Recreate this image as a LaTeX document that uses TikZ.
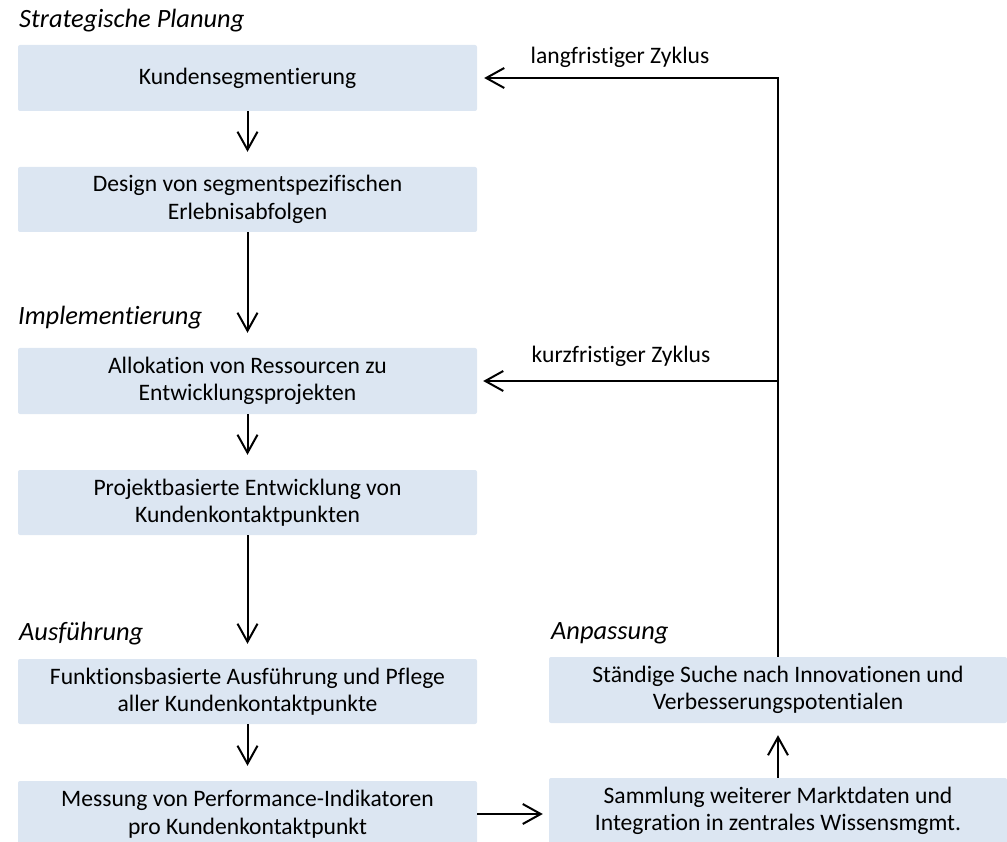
\documentclass[tikz,border=0pt]{standalone}
\usepackage{fontspec}
\setmainfont{Carlito}[Ligatures={NoCommon}]
\usetikzlibrary{arrows.meta}
\definecolor{boxfill}{HTML}{DCE6F2}
\newcommand{\bfont}{\fontsize{23.6}{27.5}\selectfont}
\newcommand{\hfont}{\fontsize{26.4}{30}\selectfont\itshape}
\tikzset{
  box/.style={draw=none, fill=boxfill, rounded corners=2pt, minimum width=459pt, minimum height=66pt, inner sep=0pt, align=center, font=\bfont},
  head/.style={anchor=west, inner sep=0pt, font=\hfont},
  lbl/.style={inner sep=0pt, font=\bfont},
  arr/.style={line width=2pt, -{Straight Barb[length=18pt,width=20pt,line width=2pt]}},
}
\begin{document}
\begin{tikzpicture}[x=1pt,y=-1pt]
\useasboundingbox (0,0) rectangle (1007,842);
\clip (0,0) rectangle (1007,842);
% headings
\node[head] (h1) at (19,21) {Strategische Planung};
\node[head] (h2) at (18,318) {Implementierung};
\node[head] (h3) at (19,634) {Ausführung};
\node[head] (h4) at (551,633) {Anpassung};
% left column
\node[box] (b1) at (247.5,78) {Kundensegmentierung};
\node[box, minimum height=65pt] (b2) at (247.5,199.5) {Design von segmentspezifischen\\Erlebnisabfolgen};
\node[box] (b3) at (247.5,381) {Allokation von Ressourcen zu\\Entwicklungsprojekten};
\node[box, minimum height=65pt] (b4) at (247.5,502.5) {Projektbasierte Entwicklung von\\Kundenkontaktpunkten};
\node[box, minimum height=65pt] (b5) at (247.5,691.5) {Funktionsbasierte Ausführung und Pflege\\aller Kundenkontaktpunkte};
\node[box] (b6) at (247.5,814) {Messung von Performance-Indikatoren\\pro Kundenkontaktpunkt};
% right column
\node[box, minimum width=458pt] (r1) at (778,690) {Ständige Suche nach Innovationen und\\Verbesserungspotentialen};
\node[box, minimum width=458pt] (r2) at (778,811) {Sammlung weiterer Marktdaten und\\Integration in zentrales Wissensmgmt.};
% arrows
\draw[arr, shorten >=15pt] (b1) -- (b2);
\draw[arr, shorten >=15pt] (b2) -- (b3);
\draw[arr, shorten >=15pt] (b3) -- (b4);
\draw[arr, shorten >=15pt] (b4) -- (b5);
\draw[arr, shorten >=15pt] (b5) -- (b6);
\draw[arr, shorten >=6pt] (b6.east) -- (b6.east -| r2.west);
\draw[arr, shorten >=12pt] (r2) -- (r1);
\coordinate (top) at (r1.north |- b1.east);
\draw[arr, shorten >=7pt] (r1.north) -- (top) -- (b1.east);
\draw[arr, shorten >=6pt] (r1.north |- b3.east) -- (b3.east);
% labels
\node[lbl] (l1) at (620,57) {langfristiger Zyklus};
\node[lbl] (l2) at (621,356) {kurzfristiger Zyklus};
\end{tikzpicture}
\end{document}
